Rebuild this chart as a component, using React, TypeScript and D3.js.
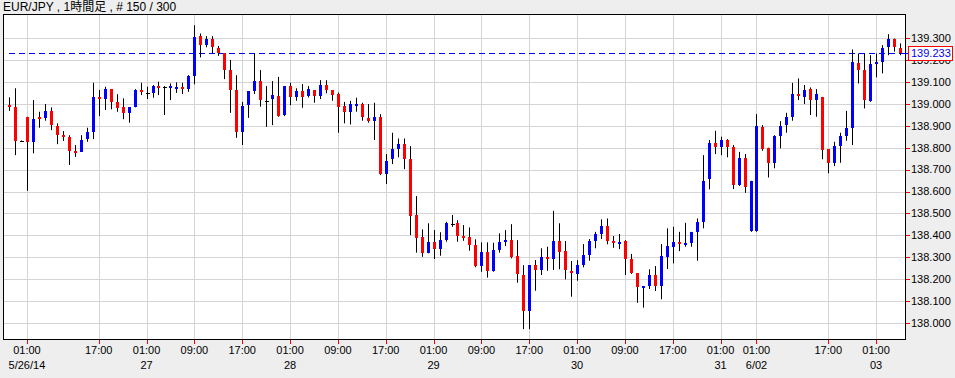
import React from "react";
import * as d3 from "d3";

const openS = [138.994,138.987,138.830,138.941,138.827,138.941,138.936,138.968,138.899,138.857,138.850,138.786,138.781,138.839,138.873,139.031,139.022,139.067,139.009,138.987,138.959,138.987,139.063,139.048,139.050,139.081,139.075,139.071,139.067,139.078,139.070,139.128,139.309,139.267,139.295,139.256,139.230,139.154,139.063,138.873,138.994,139.058,139.104,139.014,139.022,139.035,138.949,139.081,139.032,139.058,139.035,139.063,139.037,139.086,139.063,139.045,138.990,138.964,138.998,139.000,138.934,138.921,138.938,138.680,138.747,138.794,138.816,138.748,138.492,138.394,138.321,138.368,138.336,138.378,138.451,138.455,138.398,138.391,138.356,138.261,138.324,138.238,138.333,138.369,138.378,138.305,138.219,138.056,138.264,138.242,138.300,138.292,138.374,138.328,138.238,138.222,138.264,138.310,138.375,138.406,138.442,138.373,138.365,138.374,138.292,138.227,138.161,138.169,138.217,138.169,138.302,138.348,138.368,138.363,138.366,138.416,138.462,138.655,138.820,138.804,138.835,138.804,138.629,138.754,138.421,138.421,138.895,138.800,138.731,138.853,138.903,138.941,139.045,139.032,139.067,139.017,139.032,138.792,138.731,138.807,138.853,138.888,139.187,139.154,139.013,139.185,139.192,139.258,139.295,139.253];
const highS = [139.030,139.071,138.833,138.941,139.017,138.964,138.999,138.984,138.911,138.876,138.857,138.812,138.857,138.891,139.096,139.063,139.078,139.067,139.044,139.025,138.985,139.067,139.096,139.078,139.086,139.101,139.081,139.093,139.098,139.096,139.131,139.359,139.321,139.309,139.309,139.264,139.230,139.200,139.131,139.009,139.058,139.230,139.154,139.081,139.104,139.123,139.081,139.096,139.071,139.090,139.081,139.063,139.108,139.108,139.063,139.052,139.009,139.014,139.028,139.005,138.999,139.005,138.953,138.771,138.868,138.842,138.842,138.807,138.579,138.427,138.455,138.424,138.414,138.462,138.493,138.469,138.447,138.436,138.382,138.368,138.368,138.366,138.409,138.424,138.451,138.378,138.264,138.264,138.287,138.341,138.348,138.512,138.455,138.374,138.283,138.287,138.360,138.383,138.416,138.473,138.477,138.397,138.406,138.378,138.315,138.227,138.169,138.245,138.260,138.360,138.432,138.439,138.416,138.457,138.416,138.477,138.766,138.835,138.877,138.850,138.839,138.812,138.781,138.771,138.649,138.953,138.903,138.800,138.857,138.921,138.959,139.096,139.116,139.086,139.075,139.067,139.032,138.792,138.827,138.868,138.968,139.248,139.230,139.230,139.222,139.230,139.268,139.318,139.298,139.276];
const lowS = [138.968,138.766,138.827,138.603,138.774,138.891,138.923,138.880,138.816,138.831,138.721,138.758,138.781,138.827,138.839,138.944,138.972,138.975,138.964,138.930,138.914,138.984,139.040,139.022,139.028,139.040,138.949,139.017,139.050,139.045,139.055,139.089,139.212,139.258,139.230,139.219,139.113,138.959,138.845,138.812,138.936,139.045,138.987,138.895,138.903,138.941,138.944,138.994,139.014,138.982,139.029,139.005,139.022,139.048,139.014,138.868,138.911,138.906,138.964,138.923,138.914,138.835,138.675,138.634,138.725,138.756,138.702,138.401,138.321,138.302,138.318,138.292,138.307,138.371,138.439,138.371,138.375,138.330,138.254,138.234,138.207,138.234,138.321,138.351,138.295,138.184,137.972,137.972,138.147,138.219,138.238,138.242,138.245,138.199,138.120,138.193,138.254,138.284,138.341,138.383,138.359,138.343,138.337,138.219,138.224,138.092,138.070,138.155,138.146,138.108,138.246,138.272,138.328,138.348,138.348,138.284,138.432,138.610,138.771,138.766,138.756,138.611,138.625,138.594,138.416,138.416,138.786,138.664,138.706,138.797,138.868,138.923,139.017,138.999,138.949,138.941,138.747,138.683,138.716,138.731,138.831,138.812,139.093,138.979,139.009,139.121,139.139,139.222,139.238,139.222];
const closeS = [138.987,138.831,138.830,138.827,138.930,138.935,138.968,138.903,138.857,138.850,138.784,138.780,138.835,138.871,139.031,139.023,139.067,139.009,138.982,138.959,138.985,139.063,139.055,139.048,139.082,139.073,139.075,139.081,139.078,139.067,139.128,139.306,139.268,139.295,139.258,139.230,139.154,139.063,138.873,138.990,139.058,139.104,139.017,139.014,139.040,138.946,139.081,139.032,139.058,139.032,139.067,139.037,139.086,139.063,139.040,138.987,138.964,139.000,139.000,138.938,138.921,138.938,138.680,138.740,138.794,138.816,138.748,138.489,138.389,138.321,138.368,138.336,138.378,138.455,138.451,138.398,138.392,138.356,138.261,138.324,138.238,138.333,138.371,138.378,138.302,138.222,138.056,138.264,138.242,138.300,138.297,138.374,138.325,138.242,138.227,138.264,138.310,138.375,138.406,138.442,138.375,138.368,138.370,138.292,138.227,138.165,138.169,138.217,138.169,138.305,138.351,138.371,138.364,138.367,138.416,138.462,138.649,138.820,138.804,138.835,138.804,138.629,138.754,138.619,138.649,138.899,138.792,138.731,138.853,138.899,138.941,139.045,139.037,139.063,139.017,139.045,138.789,138.731,138.807,138.853,138.888,139.192,139.154,139.017,139.181,139.192,139.253,139.295,139.260,139.233];

const tickIndex = [3,15,23,31,39,47,55,63,71,79,87,95,103,111,119,125,137,145];
const tickTime = ["01:00","17:00","01:00","09:00","17:00","01:00","09:00","17:00","01:00","09:00","17:00","01:00","09:00","17:00","01:00","01:00","17:00","01:00"];
const tickDate = ["5/26/14","","27","","","28","","","29","","","30","","","31","6/02","","03"];
const priceTicks = [138.0,138.1,138.2,138.3,138.4,138.5,138.6,138.7,138.8,138.9,139.0,139.1,139.2,139.3];
const lastPrice = 139.233;
const title = "EUR/JPY , 1時間足 , # 150 / 300";

const W = 955, H = 378;
const PL = 3, PR = 905, PT = 14, PB = 339;
const FONT = "'Liberation Sans', Arial, 'Noto Sans CJK JP', sans-serif";

export default function App() {
  const idx = d3.range(openS.length);
  const x = d3.scalePoint<number>().domain(idx).range([9, 900]);
  const y = d3.scaleLinear().domain([137.927, 139.41]).range([PB, PT]);
  const fmt = d3.format(".3f");
  const bw = 3;
  const yLast = Math.round(y(lastPrice)) + 0.5;

  return (
    <svg width={W} height={H} style={{ position: "absolute", left: 0, top: 0 }} fontFamily={FONT}>
      <rect x={0} y={0} width={W} height={H} fill="#EEEEEE" />
      <text x={3} y={11} fontSize={12} fill="#000">{title}</text>
      <rect x={PL} y={PT} width={PR - PL} height={PB - PT} fill="#FFFFFF" />
      {priceTicks.map((p) => (
        <line key={"hg" + p} x1={PL} x2={PR} y1={Math.round(y(p)) + 0.5} y2={Math.round(y(p)) + 0.5} stroke="#D4D4D4" />
      ))}
      {tickIndex.map((t) => (
        <line key={"vg" + t} x1={Math.round(x(t)!) + 0.5} x2={Math.round(x(t)!) + 0.5} y1={PT} y2={PB} stroke="#D4D4D4" />
      ))}
      <line x1={x(0)} x2={PR} y1={yLast} y2={yLast} stroke="#0000FF" strokeDasharray="6,4" />
      {idx.map((i) => {
        const cx = Math.round(x(i)!);
        const o = openS[i], c = closeS[i], h = highS[i], l = lowS[i];
        const yo = y(o), yc = y(c);
        const top = Math.min(yo, yc), bot = Math.max(yo, yc);
        const color = c > o ? "#0000FF" : c < o ? "#FF0000" : "#000000";
        const doji = c === o;
        const bh = Math.max(bot - top, doji ? 1 : 2);
        return (
          <g key={i}>
            <line x1={cx + 0.5} x2={cx + 0.5} y1={y(h)} y2={y(l)} stroke="#000" strokeWidth={1} />
            <rect x={doji ? cx - 1.5 : cx - 1} y={doji ? Math.round(top) : top} width={doji ? 4 : bw} height={bh} fill={color} shapeRendering="crispEdges" />
          </g>
        );
      })}
      <rect x={PL + 0.5} y={PT + 0.5} width={PR - PL} height={PB - PT} fill="none" stroke="#000" />
      {priceTicks.map((p) => (
        <g key={"yl" + p}>
          <line x1={PR + 1} x2={PR + 5} y1={Math.round(y(p)) + 0.5} y2={Math.round(y(p)) + 0.5} stroke="#FF0000" />
          <text x={911} y={y(p)} dy="0.35em" fontSize={11} fill="#000">{fmt(p)}</text>
        </g>
      ))}
      <line x1={PR} x2={908.5} y1={yLast} y2={yLast} stroke="#0000FF" />
      <rect x={908.5} y={yLast - 7} width={44} height={14} fill="#FFFFFF" stroke="#FF0000" />
      <text x={911} y={yLast} dy="0.35em" fontSize={11} fill="#0000FF">{fmt(lastPrice)}</text>
      {tickIndex.map((t, k) => (
        <g key={"xl" + t}>
          <line x1={Math.round(x(t)!) + 0.5} x2={Math.round(x(t)!) + 0.5} y1={PB + 1} y2={PB + 5} stroke="#FF0000" />
          <text x={x(t)} y={354} textAnchor="middle" fontSize={11} fill="#000">{tickTime[k]}</text>
          {tickDate[k] && <text x={x(t)} y={369} textAnchor="middle" fontSize={11} fill="#000">{tickDate[k]}</text>}
        </g>
      ))}
    </svg>
  );
}
